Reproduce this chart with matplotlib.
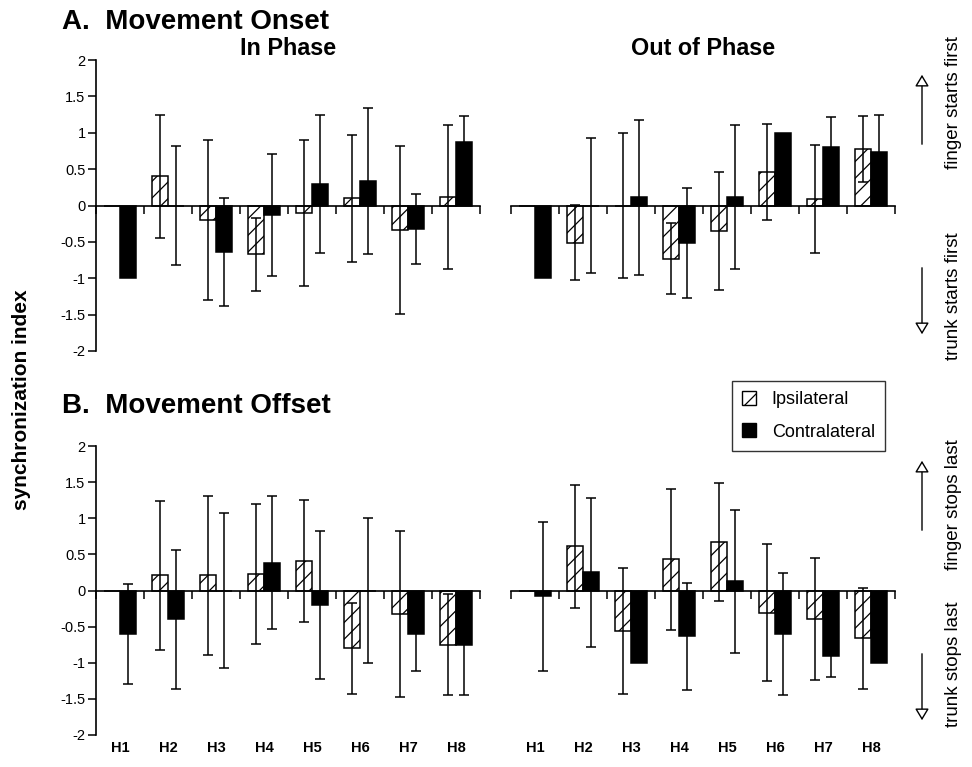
import matplotlib
matplotlib.use("Agg")
import matplotlib.pyplot as plt
from matplotlib.patches import Patch, FancyArrowPatch
from matplotlib.transforms import blended_transform_factory
import numpy as np

# 数据：同步指数 (均值, 标准差)
h_labels = ["H1", "H2", "H3", "H4", "H5", "H6", "H7", "H8"]
ytick_vals = [-2, -1.5, -1, -0.5, 0, 0.5, 1, 1.5, 2]
ytick_labels = ["-2", "-1.5", "-1", "-0.5", "0", "0.5", "1", "1.5", "2"]

# A. Movement Onset - In Phase
onset_in_ipsi = [0, 0.40, -0.20, -0.67, -0.10, 0.10, -0.34, 0.12]
onset_in_ipsi_sd = [0, 0.84, 1.10, 0.50, 1.00, 0.875, 1.155, 0.99]
onset_in_contra = [-1.00, 0, -0.64, -0.13, 0.30, 0.335, -0.32, 0.875]
onset_in_contra_sd = [0, 0.815, 0.74, 0.835, 0.95, 1.00, 0.48, 0.35]

# A. Movement Onset - Out of Phase
onset_out_ipsi = [0, -0.51, 0, -0.73, -0.35, 0.455, 0.087, 0.775]
onset_out_ipsi_sd = [0, 0.52, 1.00, 0.49, 0.81, 0.66, 0.74, 0.45]
onset_out_contra = [-1.00, 0, 0.11, -0.51, 0.12, 1.00, 0.80, 0.74]
onset_out_contra_sd = [0, 0.93, 1.06, 0.755, 0.99, 0, 0.415, 0.50]

# B. Movement Offset - In Phase
offset_in_ipsi = [0, 0.21, 0.21, 0.226, 0.406, -0.80, -0.33, -0.75]
offset_in_ipsi_sd = [0, 1.03, 1.10, 0.97, 0.84, 0.63, 1.15, 0.70]
offset_in_contra = [-0.60, -0.40, 0, 0.383, -0.20, 0, -0.60, -0.75]
offset_in_contra_sd = [0.695, 0.965, 1.07, 0.92, 1.03, 1.00, 0.51, 0.70]

# B. Movement Offset - Out of Phase
offset_out_ipsi = [0, 0.61, -0.558, 0.43, 0.674, -0.305, -0.397, -0.66]
offset_out_ipsi_sd = [0, 0.85, 0.874, 0.976, 0.82, 0.946, 0.84, 0.70]
offset_out_contra = [-0.083, 0.25, -1.00, -0.632, 0.125, -0.604, -0.904, -1.00]
offset_out_contra_sd = [1.035, 1.035, 0, 0.74, 0.99, 0.84, 0.30, 0]

plt.rcParams["font.family"] = ["Liberation Sans", "DejaVu Sans"]
plt.rcParams["axes.unicode_minus"] = False
plt.rcParams["hatch.linewidth"] = 0.9

W, H = 972, 767
fig = plt.figure(figsize=(W / 100, H / 100), dpi=100)


def px_box(x0, y_top, x1, y_bot):
    return [x0 / W, 1 - y_bot / H, (x1 - x0) / W, (y_bot - y_top) / H]


def fx(x):
    return x / W


def fy(y):
    return 1 - y / H


# 画单个面板
def draw_panel(ax, ipsi, ipsi_sd, contra, contra_sd, show_y, title=None, show_h=False):
    x = np.arange(1, len(h_labels) + 1)
    ipsi = np.array(ipsi)
    ipsi_sd = np.array(ipsi_sd)
    contra = np.array(contra)
    contra_sd = np.array(contra_sd)
    lw = 1.1

    ax.bar(x - 1 / 6, ipsi, width=1 / 3, facecolor="white", edgecolor="black",
           hatch="//", linewidth=lw, zorder=2)
    ax.bar(x + 1 / 6, contra, width=1 / 3, color="black", edgecolor="black",
           linewidth=lw, zorder=2)

    for off, m, s in [(-1 / 6, ipsi, ipsi_sd), (1 / 6, contra, contra_sd)]:
        k = s > 0
        ax.errorbar(x[k] + off, m[k], yerr=s[k], fmt="none", ecolor="black",
                    elinewidth=lw, capsize=3.6, capthick=lw, zorder=3)

    ax.set_xlim(0.5, len(h_labels) + 0.5)
    ax.set_ylim(-2, 2)
    ax.spines["top"].set_visible(False)
    ax.spines["right"].set_visible(False)
    ax.spines["bottom"].set_position(("data", 0))
    ax.spines["bottom"].set_linewidth(1.2)
    ax.spines["left"].set_linewidth(1.2)
    ax.set_xticks(np.arange(0.5, len(h_labels) + 1, 1))
    ax.set_xticklabels([])
    ax.tick_params(axis="x", direction="out", length=5.5, width=1.1)

    if show_y:
        ax.set_yticks(ytick_vals)
        ax.set_yticklabels(ytick_labels)
        ax.tick_params(axis="y", direction="out", length=5.5, width=1.1,
                       labelsize=10.5, pad=2)
    else:
        ax.spines["left"].set_visible(False)
        ax.tick_params(axis="y", left=False, labelleft=False)

    if title:
        ax.set_title(title, fontsize=16.8, fontweight="bold", pad=1.5)

    if show_h:
        tr = blended_transform_factory(ax.transData, ax.transAxes)
        for xi, lab in zip(x, h_labels):
            ax.text(xi, -0.045, lab, transform=tr, ha="center", va="center",
                    fontsize=10.5, fontweight="bold")


ax_a1 = fig.add_axes(px_box(96, 60, 480, 351))
ax_a2 = fig.add_axes(px_box(511, 60, 895, 351))
ax_b1 = fig.add_axes(px_box(96, 446, 480, 735))
ax_b2 = fig.add_axes(px_box(511, 446, 895, 735))

draw_panel(ax_a1, onset_in_ipsi, onset_in_ipsi_sd, onset_in_contra, onset_in_contra_sd,
           True, title="In Phase")
draw_panel(ax_a2, onset_out_ipsi, onset_out_ipsi_sd, onset_out_contra, onset_out_contra_sd,
           False, title="Out of Phase")
draw_panel(ax_b1, offset_in_ipsi, offset_in_ipsi_sd, offset_in_contra, offset_in_contra_sd,
           True, show_h=True)
draw_panel(ax_b2, offset_out_ipsi, offset_out_ipsi_sd, offset_out_contra, offset_out_contra_sd,
           False, show_h=True)

# 标题和轴标签
fig.text(fx(62), fy(29), "A.  Movement Onset", fontsize=20, fontweight="bold", va="baseline")
fig.text(fx(62), fy(413), "B.  Movement Offset", fontsize=20, fontweight="bold", va="baseline")
fig.text(fx(22), fy(400), "synchronization index", rotation=90, ha="center", va="center",
         fontsize=15, fontweight="bold")

# 图例
handles = [Patch(facecolor="white", edgecolor="black", hatch="//", linewidth=1),
           Patch(facecolor="black", edgecolor="black")]
leg = fig.legend(handles, ["Ipsilateral", "Contralateral"], loc="upper left",
                 bbox_to_anchor=(fx(732), fy(381)), bbox_transform=fig.transFigure,
                 fontsize=13, frameon=True, fancybox=False, edgecolor="black",
                 handlelength=0.8, handleheight=0.8, handletextpad=0.85,
                 labelspacing=0.85, borderpad=0.55, borderaxespad=0)
leg.get_frame().set_linewidth(1.0)

# 右侧方向箭头和说明
notes = [("finger starts first", 103, (147, 72)),
         ("trunk starts first", 296, (265, 337)),
         ("finger stops last", 505, (533, 458)),
         ("trunk stops last", 664, (651, 723))]
for txt, yc, (y0, y1) in notes:
    fig.text(fx(953), fy(yc), txt, rotation=90, ha="center", va="center", fontsize=13.5)
    arr = FancyArrowPatch((fx(922), fy(y0)), (fx(922), fy(y1)), transform=fig.transFigure,
                          arrowstyle="-|>,head_length=0.5,head_width=0.3", mutation_scale=14,
                          facecolor="white", edgecolor="black", linewidth=1.0)
    fig.add_artist(arr)

fig.savefig("out.png", dpi=100)
plt.close(fig)
